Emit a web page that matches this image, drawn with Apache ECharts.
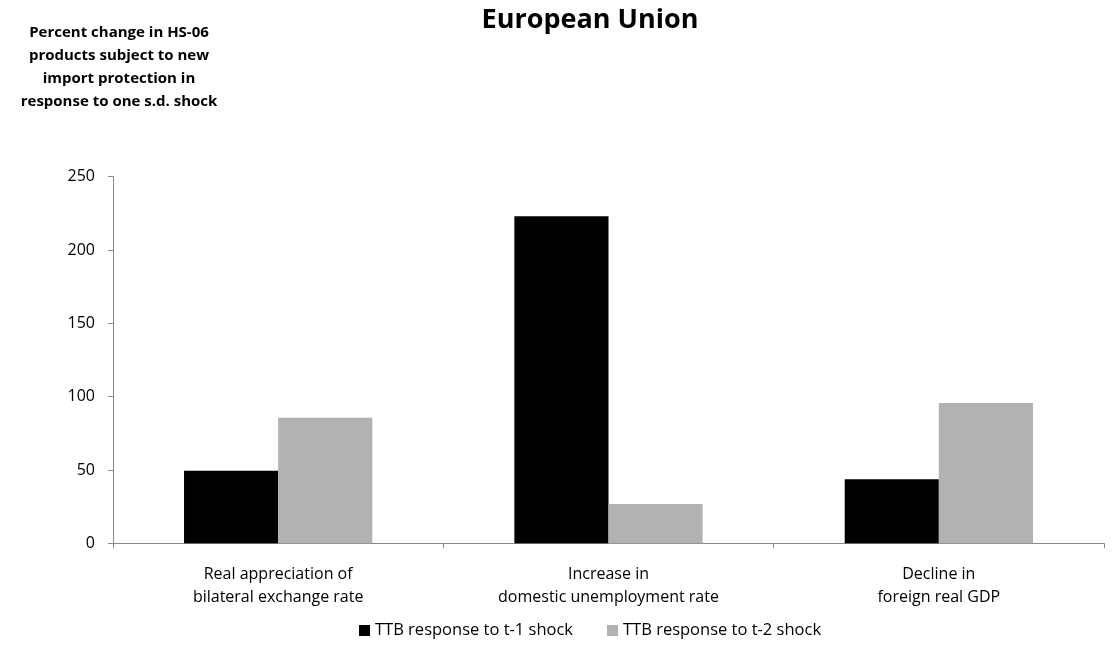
<!DOCTYPE html>
<html><head><meta charset="utf-8">
<script src="https://cdn.jsdelivr.net/npm/echarts@6/dist/echarts.min.js"></script>
<style>html,body{margin:0;padding:0;background:#fff}#c{width:1117px;height:666px}</style>
</head><body><div id="c"></div>
<script>
const categories = ["Real appreciation of\nbilateral exchange rate", "Increase in\ndomestic unemployment rate", "Decline in\nforeign real GDP"];
const seriesNames = ["TTB response to t-1 shock", "TTB response to t-2 shock"];
const t1Values = [49.5, 223, 43.6];
const t2Values = [85.6, 26.8, 95.6];
const yTicks = { min: 0, max: 250, interval: 50 };

const font = "Open Sans, Noto Sans, sans-serif";
const chart = echarts.init(document.getElementById('c'));
chart.setOption({
  animation: false,
  textStyle: { fontFamily: font },
  title: {
    text: "European Union", left: 585, top: 2, textAlign: 'center',
    textStyle: { fontSize: 27, fontWeight: 'bold', color: '#000', fontFamily: font }
  },
  graphic: [{
    type: 'text', x: 119, y: 21,
    style: {
      text: "Percent change in HS-06\nproducts subject to new\nimport protection in\nresponse to one s.d. shock",
      textAlign: 'center', fill: '#000',
      font: "bold 15px " + font, lineHeight: 23
    }
  }],
  legend: {
    top: 617, left: 354, itemWidth: 11, itemHeight: 11, itemGap: 34,
    icon: 'rect',
    textStyle: { fontSize: 16.5, color: '#000', fontFamily: font },
    data: seriesNames
  },
  grid: { left: 113, right: 13, top: 176.7, bottom: 122.7, containLabel: false },
  xAxis: {
    type: 'category', data: categories,
    axisLine: { lineStyle: { color: '#888', width: 1 } },
    axisTick: { show: true, length: 5, lineStyle: { color: '#888' }, alignWithLabel: false },
    axisLabel: { fontSize: 16, color: '#000', lineHeight: 23, margin: 20, interval: 0 }
  },
  yAxis: {
    type: 'value', min: yTicks.min, max: yTicks.max, interval: yTicks.interval,
    axisLine: { show: true, lineStyle: { color: '#888', width: 1 } },
    axisTick: { show: true, length: 5, lineStyle: { color: '#888' } },
    splitLine: { show: false },
    axisLabel: { fontSize: 16, color: '#000', margin: 18 }
  },
  series: [
    { name: seriesNames[0], type: 'bar', data: t1Values, itemStyle: { color: '#000000' }, barGap: '0%', barCategoryGap: '43%' },
    { name: seriesNames[1], type: 'bar', data: t2Values, itemStyle: { color: '#b2b2b2' }, barGap: '0%', barCategoryGap: '43%' }
  ]
});
</script></body></html>
